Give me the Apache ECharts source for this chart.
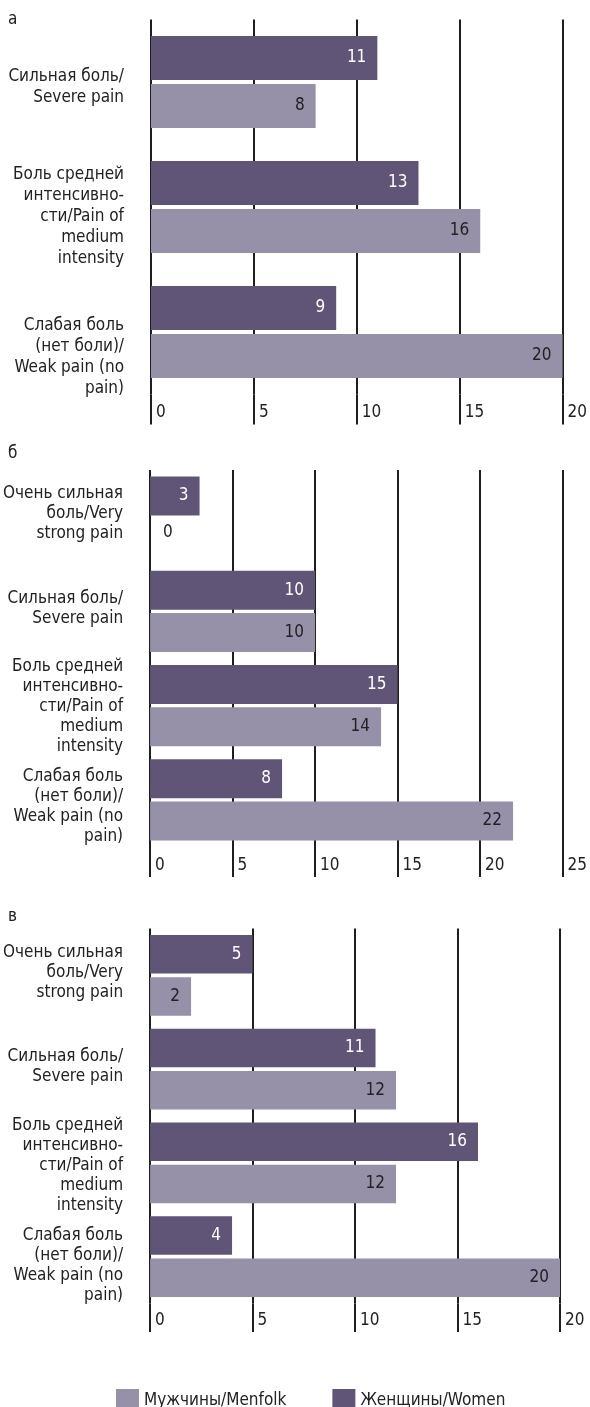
<!DOCTYPE html>
<html>
<head>
<meta charset="utf-8">
<script src="https://cdn.jsdelivr.net/npm/echarts@6/dist/echarts.min.js"></script>
<style>
html,body{margin:0;padding:0;background:#fff;}
#c{width:590px;height:1407px;}
</style>
</head>
<body>
<div id="c"></div>
<script>
// ---- data ----
const catsA = [
  "Сильная боль/\nSevere pain",
  "Боль средней\nинтенсивно-\nсти/Pain of\nmedium\nintensity",
  "Слабая боль\n(нет боли)/\nWeak pain (no\npain)"
];
const catsB = [
  "Очень сильная\nболь/Very\nstrong pain",
  "Сильная боль/\nSevere pain",
  "Боль средней\nинтенсивно-\nсти/Pain of\nmedium\nintensity",
  "Слабая боль\n(нет боли)/\nWeak pain (no\npain)"
];
const catsV = catsB.slice();
const womenA = [11, 13, 9];
const menA = [8, 16, 20];
const womenB = [3, 10, 15, 8];
const menB = [0, 10, 14, 22];
const womenV = [5, 11, 16, 4];
const menV = [2, 12, 12, 20];
const maxA = 20, maxB = 25, maxV = 20;
const tickStep = 5;
const panelLetters = ["а", "б", "в"];
const nameMen = "Мужчины/Menfolk";
const nameWomen = "Женщины/Women";

// ---- style ----
const FONT = '"Liberation Sans Narrow", "DejaVu Sans Condensed", "Arial Narrow", sans-serif';
const WOMEN_COLOR = '#605576';
const MEN_COLOR = '#9690a8';
const LINE_COLOR = '#1e1e1e';
const TEXT_COLOR = '#222';
// vertical nudges (px) of the category labels, per panel
const labelShiftA = [5, 10, 25];
const labelShiftB = [-4, -3, 1, 7];
const labelShiftV = [-3, -3, 3, 9];

const panels = [
  {cats: catsA, women: womenA, men: menA, max: maxA, shift: labelShiftA,
   grid: {left: 151, width: 412, top: 19.5, height: 375}, tick: 30, barW: 44, gap: '9%', lh: 21, lblMargin: 10},
  {cats: catsB, women: womenB, men: menB, max: maxB, shift: labelShiftB,
   grid: {left: 150, width: 416, top: 470, height: 377}, tick: 30, barW: 39, gap: '8%', lh: 20, lblMargin: 10},
  {cats: catsV, women: womenV, men: menV, max: maxV, shift: labelShiftV,
   grid: {left: 150, width: 410, top: 928.5, height: 375}, tick: 28.5, barW: 38.5, gap: '10%', lh: 20, lblMargin: 9}
];

const grids = [], xAxes = [], yAxes = [], series = [];
panels.forEach((p, i) => {
  grids.push(Object.assign({containLabel: false}, p.grid));
  xAxes.push({
    type: 'value', gridIndex: i, min: 0, max: p.max, interval: tickStep,
    axisLine: {show: false},
    axisTick: {show: true, length: p.tick, lineStyle: {color: LINE_COLOR, width: 2}},
    splitLine: {show: true, lineStyle: {color: LINE_COLOR, width: 2}},
    axisLabel: {show: true, align: 'left', margin: p.lblMargin, padding: [0, 0, 0, 5],
      fontFamily: FONT, fontSize: 17, color: TEXT_COLOR}
  });
  const rich = {
    t: {fontFamily: FONT, fontSize: 17, lineHeight: p.lh, color: TEXT_COLOR, align: 'right'}
  };
  p.shift.forEach((s, k) => {
    const h = Math.max(1, 2 * Math.abs(s));
    rich['g' + k] = {fontSize: 1, lineHeight: h, height: h};
  });
  yAxes.push({
    type: 'category', gridIndex: i, inverse: true, data: p.cats,
    axisLine: {show: false}, axisTick: {show: false},
    axisLabel: {
      interval: 0, margin: 27, fontFamily: FONT, fontSize: 17, lineHeight: p.lh, color: TEXT_COLOR,
      rich: rich,
      formatter: (val, k) => {
        const body = val.split('\n').map(l => '{t|' + l + '}').join('\n');
        const s = p.shift[k];
        if (!s) return body;
        return s > 0 ? '{g' + k + '| }\n' + body : body + '\n{g' + k + '| }';
      }
    }
  });
  const lblBase = {show: true, position: 'insideRight', distance: 11, fontFamily: FONT, fontSize: 17};
  series.push({
    name: nameWomen, type: 'bar', xAxisIndex: i, yAxisIndex: i,
    data: p.women, barWidth: p.barW, barGap: p.gap,
    itemStyle: {color: WOMEN_COLOR},
    label: Object.assign({color: '#fff'}, lblBase),
    silent: true
  });
  series.push({
    name: nameMen, type: 'bar', xAxisIndex: i, yAxisIndex: i,
    data: p.men.map(v => v === 0 ? {value: v, label: {position: 'right', distance: 13, offset: [0, -6]}} : v),
    barWidth: p.barW, barGap: p.gap,
    itemStyle: {color: MEN_COLOR},
    label: Object.assign({color: TEXT_COLOR}, lblBase),
    silent: true
  });
});

const letterTops = [11, 445, 908];
const graphics = panelLetters.map((t, i) => ({
  type: 'text', left: 8, top: letterTops[i],
  style: {text: t, fontFamily: FONT, fontSize: 17, fill: TEXT_COLOR}
}));

const chart = echarts.init(document.getElementById('c'), null, {renderer: 'canvas'});
chart.setOption({
  animation: false,
  backgroundColor: '#fff',
  grid: grids,
  xAxis: xAxes,
  yAxis: yAxes,
  series: series,
  graphic: graphics,
  legend: {
    data: [nameMen, nameWomen],
    left: 111, top: 1384,
    itemWidth: 23, itemHeight: 23, itemGap: 46,
    icon: 'rect',
    textStyle: {fontFamily: FONT, fontSize: 17, color: TEXT_COLOR},
    selectedMode: false
  }
});
</script>
</body>
</html>
